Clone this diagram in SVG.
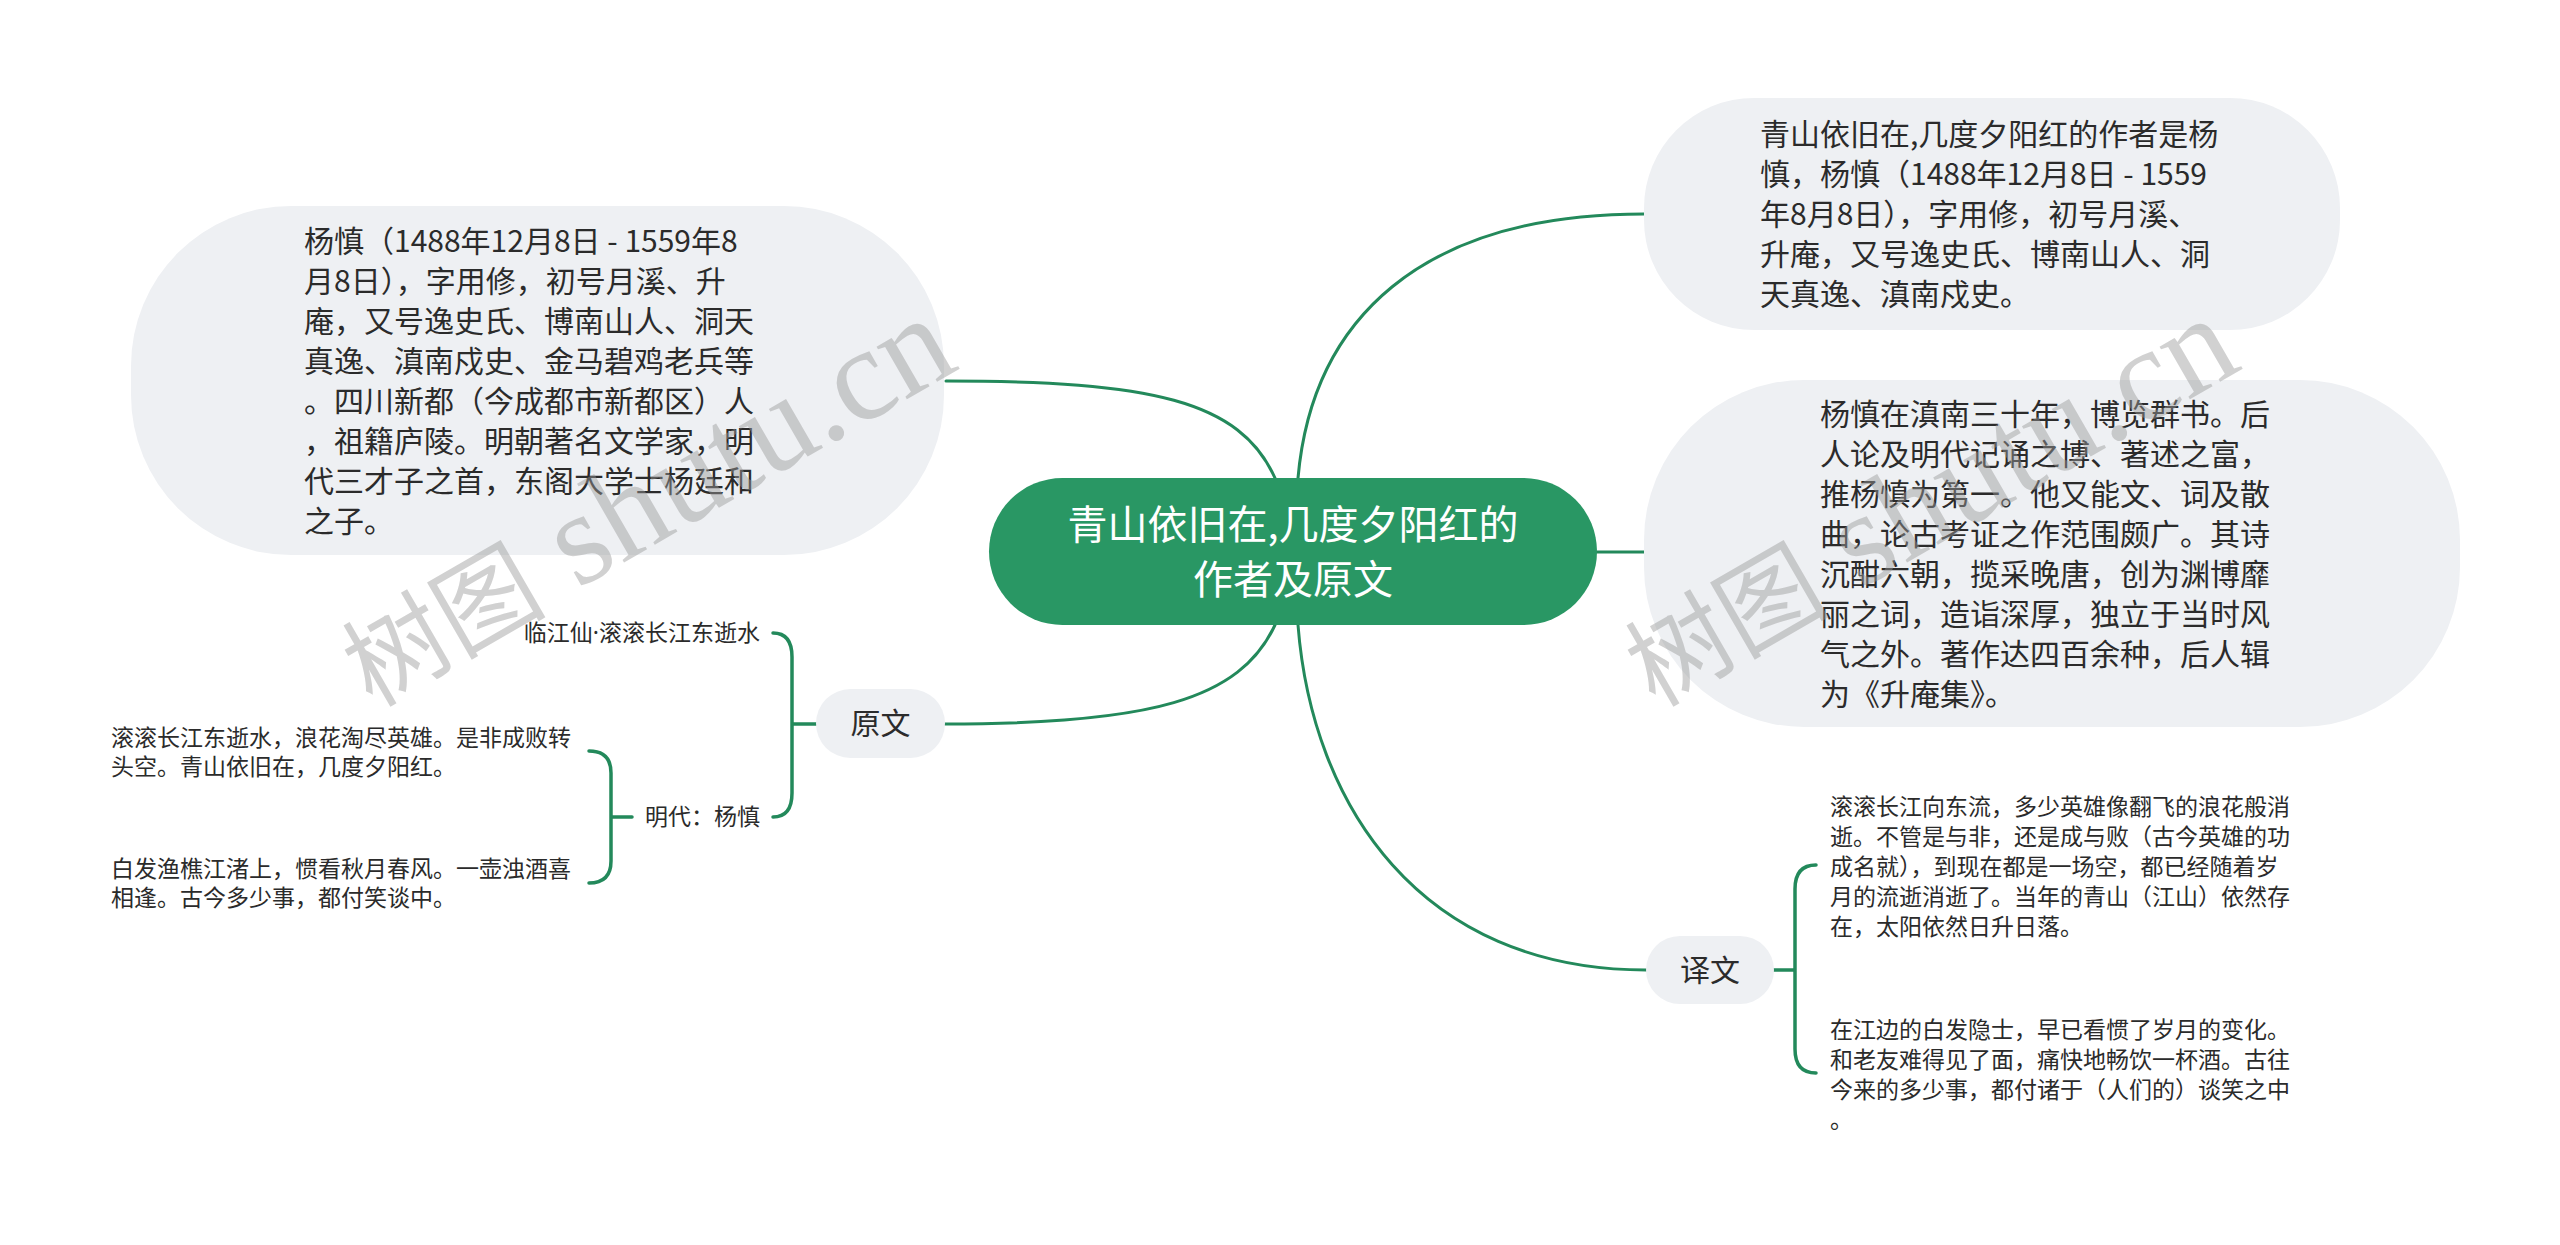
<svg xmlns="http://www.w3.org/2000/svg" width="2560" height="1245" viewBox="0 0 2560 1245">
<style>
.bg{fill:#ffffff}
.main{fill:#299764}
.sub{fill:#eef0f3}
.t{font-family:"Noto Sans CJK SC","Noto Sans",sans-serif;fill:#2b2b2b}
.t30{font-size:30px}
.t23{font-size:23px}
.tc{font-size:40px;fill:#ffffff;text-anchor:middle}
.mid{text-anchor:middle}
.end{text-anchor:end}
.ln{fill:none;stroke:#23895b;stroke-width:3;stroke-linecap:round}
.br{fill:none;stroke:#23895b;stroke-width:3.5;stroke-linecap:round}
.wm{fill:#9a9a9a;opacity:0.45}
.wmc{font-family:"Noto Sans CJK SC",sans-serif;font-size:102px}
.wml{font-family:"Liberation Serif",serif;font-size:132px}
</style>
<rect class="bg" x="0" y="0" width="2560" height="1245"/>

<g id="connectors">
<path class="ln" d="M1298,478 C1312,320 1420,214 1644,214"/>
<path class="ln" d="M1275,478 C1240,400 1150,381 946,381"/>
<path class="ln" d="M1597,552 L1645,552"/>
<path class="ln" d="M1298,625 C1312,805 1420,970 1646,970"/>
<path class="ln" d="M1275,625 C1240,700 1150,724 945,724"/>
<path class="br" d="M773,633 Q792,633 792,657 L792,793 Q792,817 773,817 M792,724 L816,724"/>
<path class="br" d="M589,751 Q611,751 611,773 L611,861 Q611,883 589,883 M611,817 L632,817"/>
<path class="br" d="M1816,865 Q1795,865 1795,889 L1795,1049 Q1795,1073 1816,1073 M1774,970 L1795,970"/>
</g>

<g id="root">
<rect class="main" x="989" y="478" width="608" height="147" rx="73.5"/>
<text class="t tc" x="1293" y="539">青山依旧在,几度夕阳红的</text>
<text class="t tc" x="1293" y="594">作者及原文</text>
</g>

<g id="node-bio">
<rect class="sub" x="131" y="206" width="813" height="349" rx="160"/>
<text class="t t30" x="304" y="251.5">
<tspan x="304" dy="0">杨慎（1488年12月8日 - 1559年8</tspan>
<tspan x="304" dy="40">月8日），字用修，初号月溪、升</tspan>
<tspan x="304" dy="40">庵，又号逸史氏、博南山人、洞天</tspan>
<tspan x="304" dy="40">真逸、滇南戍史、金马碧鸡老兵等</tspan>
<tspan x="304" dy="40">。四川新都（今成都市新都区）人</tspan>
<tspan x="304" dy="40">，祖籍庐陵。明朝著名文学家，明</tspan>
<tspan x="304" dy="40">代三才子之首，东阁大学士杨廷和</tspan>
<tspan x="304" dy="40">之子。</tspan>
</text>
</g>

<g id="node-author">
<rect class="sub" x="1644" y="98" width="696" height="232" rx="110"/>
<text class="t t30" x="1760" y="145">
<tspan x="1760" dy="0">青山依旧在,几度夕阳红的作者是杨</tspan>
<tspan x="1760" dy="40">慎，杨慎（1488年12月8日 - 1559</tspan>
<tspan x="1760" dy="40">年8月8日），字用修，初号月溪、</tspan>
<tspan x="1760" dy="40">升庵，又号逸史氏、博南山人、洞</tspan>
<tspan x="1760" dy="40">天真逸、滇南戍史。</tspan>
</text>
</g>

<g id="node-works">
<rect class="sub" x="1644" y="380" width="816" height="347" rx="160"/>
<text class="t t30" x="1820" y="424.5">
<tspan x="1820" dy="0">杨慎在滇南三十年，博览群书。后</tspan>
<tspan x="1820" dy="40">人论及明代记诵之博、著述之富，</tspan>
<tspan x="1820" dy="40">推杨慎为第一。他又能文、词及散</tspan>
<tspan x="1820" dy="40">曲，论古考证之作范围颇广。其诗</tspan>
<tspan x="1820" dy="40">沉酣六朝，揽采晚唐，创为渊博靡</tspan>
<tspan x="1820" dy="40">丽之词，造诣深厚，独立于当时风</tspan>
<tspan x="1820" dy="40">气之外。著作达四百余种，后人辑</tspan>
<tspan x="1820" dy="40">为《升庵集》。</tspan>
</text>
</g>

<g id="node-yuanwen">
<rect class="sub" x="816" y="689" width="129" height="69" rx="34.5"/>
<text class="t t30 mid" x="880.5" y="734">原文</text>
</g>

<g id="node-title">
<text class="t t23 end" x="760" y="641">临江仙<tspan style="font-family:'Noto Sans',sans-serif">·</tspan>滚滚长江东逝水</text>
</g>

<g id="node-dynasty">
<text class="t t23 end" x="760" y="825">明代：杨慎</text>
</g>

<g id="node-poem1">
<text class="t t23" x="111" y="746">
<tspan x="111" dy="0">滚滚长江东逝水，浪花淘尽英雄。是非成败转</tspan>
<tspan x="111" dy="29">头空。青山依旧在，几度夕阳红。</tspan>
</text>
</g>

<g id="node-poem2">
<text class="t t23" x="111" y="877">
<tspan x="111" dy="0">白发渔樵江渚上，惯看秋月春风。一壶浊酒喜</tspan>
<tspan x="111" dy="29">相逢。古今多少事，都付笑谈中。</tspan>
</text>
</g>

<g id="node-yiwen">
<rect class="sub" x="1646" y="936" width="128" height="68" rx="34"/>
<text class="t t30 mid" x="1710" y="981">译文</text>
</g>

<g id="node-trans1">
<text class="t t23" x="1830" y="815">
<tspan x="1830" dy="0">滚滚长江向东流，多少英雄像翻飞的浪花般消</tspan>
<tspan x="1830" dy="30">逝。不管是与非，还是成与败（古今英雄的功</tspan>
<tspan x="1830" dy="30">成名就），到现在都是一场空，都已经随着岁</tspan>
<tspan x="1830" dy="30">月的流逝消逝了。当年的青山（江山）依然存</tspan>
<tspan x="1830" dy="30">在，太阳依然日升日落。</tspan>
</text>
</g>

<g id="node-trans2">
<text class="t t23" x="1830" y="1038">
<tspan x="1830" dy="0">在江边的白发隐士，早已看惯了岁月的变化。</tspan>
<tspan x="1830" dy="30">和老友难得见了面，痛快地畅饮一杯酒。古往</tspan>
<tspan x="1830" dy="30">今来的多少事，都付诸于（人们的）谈笑之中</tspan>
<tspan x="1830" dy="30">。</tspan>
</text>
</g>

<g id="watermarks">
<text class="wm" transform="translate(372,708) rotate(-30)"><tspan class="wmc">树图</tspan><tspan class="wml"> shutu.cn</tspan></text>
<text class="wm" transform="translate(1655,708) rotate(-30)"><tspan class="wmc">树图</tspan><tspan class="wml"> shutu.cn</tspan></text>
</g>
</svg>
